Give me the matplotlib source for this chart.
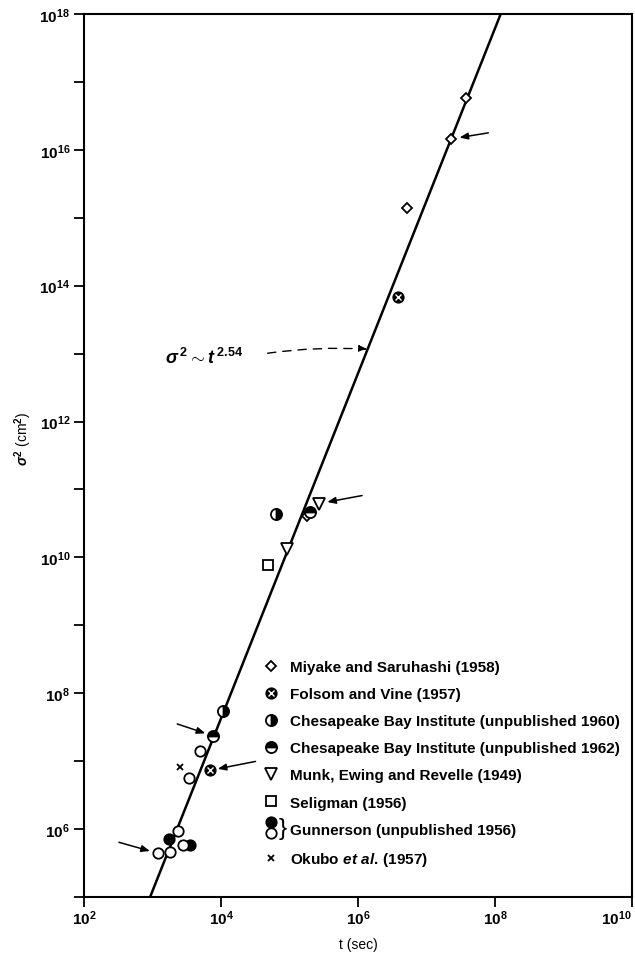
import numpy as np
import matplotlib
matplotlib.use("Agg")
import matplotlib.pyplot as plt
from matplotlib.lines import Line2D
from matplotlib.text import Text
from matplotlib.legend_handler import HandlerBase, HandlerTuple

plt.rcParams['font.family'] = ['Liberation Sans', 'DejaVu Sans']
plt.rcParams['font.weight'] = 'bold'
plt.rcParams['mathtext.fontset'] = 'custom'
plt.rcParams['mathtext.rm'] = 'Liberation Sans:bold'
plt.rcParams['mathtext.it'] = 'Liberation Sans:italic:bold'
plt.rcParams['mathtext.bf'] = 'Liberation Sans:bold'

# data (t in sec, sigma^2 in cm^2)
miyake_t = [3.8e7, 2.3e7, 5.2e6, 1.8e5]
miyake_s2 = [5.8e16, 1.45e16, 1.4e15, 4.0e10]
folsom_t = [3.8e6, 6.8e3]
folsom_s2 = [6.8e13, 7.3e6]
cbi60_t = [6.3e4, 1.08e4]
cbi60_s2 = [4.4e10, 5.5e7]
cbi62_t = [2.0e5, 7.7e3]
cbi62_s2 = [4.6e10, 2.35e7]
munk_t = [2.7e5, 9.1e4]
munk_s2 = [6.2e10, 1.33e10]
seligman_t = [4.8e4]
seligman_s2 = [7.7e9]
gunn_filled_t = [1.77e3, 3.47e3]
gunn_filled_s2 = [7.1e5, 5.9e5]
gunn_open_t = [2.33e3, 2.76e3, 1.2e3, 1.83e3, 3.36e3, 4.93e3]
gunn_open_s2 = [9.4e5, 5.8e5, 4.4e5, 4.6e5, 5.7e6, 1.41e7]
okubo_t = [2.5e3]
okubo_s2 = [8.3e6]

fit_exp = 2.54
fit_coef = 10 ** (-2.531)

labels = ['Miyake and Saruhashi (1958)',
          'Folsom and Vine (1957)',
          'Chesapeake Bay Institute (unpublished 1960)',
          'Chesapeake Bay Institute (unpublished 1962)',
          'Munk, Ewing and Revelle (1949)',
          'Seligman (1956)',
          'Gunnerson (unpublished 1956)',
          r'Okubo $\mathit{et\ al.}\,$(1957)']

fig = plt.figure(figsize=(6.35, 9.54), dpi=100)
ax = fig.add_axes([0.1323, 0.0587, 0.863, 0.9256])
ax.set_xscale('log')
ax.set_yscale('log')
ax.set_xlim(1e2, 1e10)
ax.set_ylim(1e5, 1e18)

# fitted power law
tt = np.logspace(2, 10, 200)
ax.plot(tt, fit_coef * tt ** fit_exp, color='black', lw=1.8, zorder=2)

mk = dict(ls='none', mec='black', mew=1.3, zorder=3)
h_miy, = ax.plot(miyake_t, miyake_s2, marker='D', ms=5.5, mfc='white', **mk)
h_fol1, = ax.plot(folsom_t, folsom_s2, marker='o', ms=7.5, mfc='black', **mk)
h_fol2, = ax.plot(folsom_t, folsom_s2, marker='x', ms=4, ls='none', mec='white',
                  mew=1.0, zorder=4)
h_c60, = ax.plot(cbi60_t, cbi60_s2, marker='o', ms=8, fillstyle='right', mfc='black',
                 markerfacecoloralt='white', **mk)
h_c62, = ax.plot(cbi62_t, cbi62_s2, marker='o', ms=8, fillstyle='top', mfc='black',
                 markerfacecoloralt='white', **mk)
h_munk, = ax.plot(munk_t, munk_s2, marker='v', ms=8, mfc='white', **mk)
h_sel, = ax.plot(seligman_t, seligman_s2, marker='s', ms=7, mfc='white', **mk)
h_gf, = ax.plot(gunn_filled_t, gunn_filled_s2, marker='o', ms=7.5, mfc='black', **mk)
h_go, = ax.plot(gunn_open_t, gunn_open_s2, marker='o', ms=7.5, mfc='white', **mk)
h_ok, = ax.plot(okubo_t, okubo_s2, marker='x', ms=4, ls='none', color='black',
                mew=1.3, zorder=3)

# arrows pointing at selected points
arr = dict(arrowstyle='-|>,head_length=0.5,head_width=0.2', color='black', lw=1.1,
           shrinkA=0, shrinkB=6)
ax.annotate('', xy=(miyake_t[1], miyake_s2[1]), xytext=(37, 6),
            textcoords='offset pixels', arrowprops=arr)
ax.annotate('', xy=(munk_t[0], munk_s2[0]), xytext=(43, 8),
            textcoords='offset pixels', arrowprops=arr)
ax.annotate('', xy=(cbi62_t[1], cbi62_s2[1]), xytext=(-36, 12),
            textcoords='offset pixels', arrowprops=arr)
ax.annotate('', xy=(folsom_t[1], folsom_s2[1]), xytext=(46, 9),
            textcoords='offset pixels', arrowprops=arr)
ax.annotate('', xy=(gunn_open_t[2], gunn_open_s2[2]), xytext=(-39, 11),
            textcoords='offset pixels', arrowprops=arr)

# power law label with a dashed pointer to the line
t_lab = 1.38e6
ax.text(0.148, 0.612, r'$\sigma^{\,2} \sim t^{\,2.54}$', transform=ax.transAxes,
        fontsize=13, ha='left', va='center')
ax.annotate('', xy=(t_lab, fit_coef * t_lab ** fit_exp), xytext=(-100, -4),
            textcoords='offset pixels',
            arrowprops=dict(arrowstyle='-|>,head_length=0.5,head_width=0.2',
                            color='black', lw=1.0, ls=(0, (6, 5)),
                            connectionstyle='arc3,rad=-0.05', shrinkA=0, shrinkB=0))


class GunnersonHandler(HandlerBase):
    def create_artists(self, legend, orig_handle, xdescent, ydescent, width, height,
                       fontsize, trans):
        filled, hollow = orig_handle
        x = width / 2 - xdescent
        y = height / 2 - ydescent
        m1 = Line2D([x], [y + 0.42 * fontsize], marker='o', ms=7.5, mfc='black',
                    mec='black', mew=1.3, ls='none', transform=trans)
        m2 = Line2D([x], [y - 0.32 * fontsize], marker='o', ms=7.5, mfc='white',
                    mec='black', mew=1.3, ls='none', transform=trans)
        br = Text(x + 0.5 * fontsize, y + 0.05 * fontsize, '}', fontsize=fontsize * 1.6,
                  ha='left', va='center', fontweight='normal', transform=trans)
        return [m1, m2, br]


handles = [h_miy, (h_fol1, h_fol2), h_c60, h_c62, h_munk, h_sel, (h_gf, h_go), h_ok]
ax.legend(handles, labels, loc='lower left', bbox_to_anchor=(0.327, 0.033),
          frameon=False, fontsize=11, handlelength=1.0, handletextpad=0.75,
          labelspacing=0.86, borderpad=0, borderaxespad=0,
          handler_map={(h_fol1, h_fol2): HandlerTuple(ndivide=1),
                       (h_gf, h_go): GunnersonHandler()})

# axes styling
for s in ax.spines.values():
    s.set_linewidth(1.5)
ax.set_xticks([1e2, 1e4, 1e6, 1e8, 1e10])
ax.set_xticklabels([r'$10^{%d}$' % e for e in [2, 4, 6, 8, 10]])
ax.set_yticks([10.0 ** e for e in range(5, 19)])
ax.set_yticklabels([r'$10^{%d}$' % e if e % 2 == 0 else '' for e in range(5, 19)])
ax.minorticks_off()
ax.tick_params(direction='out', length=7, width=1.3, labelsize=11, pad=3)
ax.tick_params(axis='x', pad=1)
ax.get_xticklabels()[-1].set_horizontalalignment('right')

ax.set_xlabel('t (sec)', fontsize=10)
ax.set_ylabel(r'$\sigma^2$ (cm$^2$)', fontsize=10)
ax.xaxis.set_label_coords(0.5, -0.045)
ax.yaxis.set_label_coords(-0.092, 0.52)

fig.savefig('out.png', dpi=100)
